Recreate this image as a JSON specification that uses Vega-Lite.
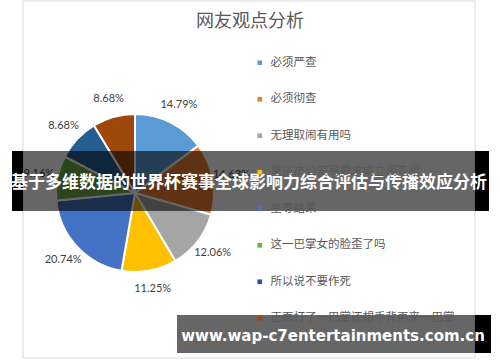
{
  "$schema": "https://vega.github.io/schema/vega-lite/v6.json",
  "width": 500,
  "height": 362,
  "autosize": {"type": "fit", "contains": "padding"},
  "padding": 0,
  "background": "white",
  "config": {"view": {"stroke": null}},
  "datasets": {
    "pie": [
      {"idx": 1, "cat": "必须严查", "share": 0.1479},
      {"idx": 2, "cat": "必须彻查", "share": 0.1463},
      {"idx": 3, "cat": "无理取闹有用吗", "share": 0.1206},
      {"idx": 4, "cat": "重庆市公安局要求成立调查组", "share": 0.1125},
      {"idx": 5, "cat": "坐等结果", "share": 0.2074},
      {"idx": 6, "cat": "这一巴掌女的脸歪了吗", "share": 0.0916},
      {"idx": 7, "cat": "所以说不要作死", "share": 0.0868},
      {"idx": 8, "cat": "正面打了一巴掌还想手背再来一巴掌", "share": 0.0868}
    ],
    "one": [{"t": "网友观点分析", "banner": "基于多维数据的世界杯赛事全球影响力综合评估与传播效应分析", "wm": "www.wap-c7entertainments.com.cn"}]
  },
  "layer": [
    {
      "data": {"name": "one"},
      "mark": {"type": "rect", "fill": "white", "stroke": "#D9D9D9", "strokeWidth": 1},
      "encoding": {"x": {"value": 23}, "x2": {"value": 475}, "y": {"value": 1}, "y2": {"value": 358}}
    },
    {
      "data": {"name": "one"},
      "mark": {"type": "text", "font": "Noto Sans CJK SC", "fontSize": 18, "color": "#595959", "align": "center", "baseline": "middle"},
      "encoding": {"x": {"value": 250}, "y": {"value": 22}, "text": {"field": "t"}}
    },
    {
      "data": {"name": "pie"},
      "mark": {"type": "arc", "outerRadius": 79, "stroke": "white", "strokeWidth": 2},
      "encoding": {
        "x": {"value": 135},
        "y": {"value": 193},
        "theta": {"field": "share", "type": "quantitative", "stack": true},
        "order": {"field": "idx", "type": "quantitative"},
        "color": {
          "field": "cat",
          "type": "nominal",
          "sort": ["必须严查", "必须彻查", "无理取闹有用吗", "重庆市公安局要求成立调查组", "坐等结果", "这一巴掌女的脸歪了吗", "所以说不要作死", "正面打了一巴掌还想手背再来一巴掌"],
          "scale": {
            "domain": ["必须严查", "必须彻查", "无理取闹有用吗", "重庆市公安局要求成立调查组", "坐等结果", "这一巴掌女的脸歪了吗", "所以说不要作死", "正面打了一巴掌还想手背再来一巴掌"],
            "range": ["#5B9BD5", "#ED7D31", "#A5A5A5", "#FFC000", "#4472C4", "#70AD47", "#255E91", "#9E480E"]
          },
          "legend": {
            "title": null,
            "orient": "none",
            "legendX": 254,
            "legendY": 57,
            "padding": 0,
            "symbolType": "square",
            "symbolSize": 22,
            "symbolStrokeWidth": 0,
            "labelFont": "Noto Sans CJK SC",
            "labelFontSize": 11.5,
            "labelColor": "#595959",
            "labelOffset": 5,
            "rowPadding": 23.5,
            "labelLimit": 300
          }
        }
      }
    },
    {
      "data": {"name": "pie"},
      "mark": {"type": "text", "radius": 98, "font": "Lato", "fontSize": 11, "color": "#404040", "align": "center", "baseline": "middle"},
      "encoding": {
        "x": {"value": 135},
        "y": {"value": 193},
        "theta": {"field": "share", "type": "quantitative", "stack": true},
        "order": {"field": "idx", "type": "quantitative"},
        "text": {"field": "share", "type": "quantitative", "format": ".2%"}
      }
    },
    {
      "data": {"name": "one"},
      "mark": {"type": "rect", "fill": "black", "opacity": 0.6},
      "encoding": {"x": {"value": 23}, "x2": {"value": 475}, "y": {"value": 151}, "y2": {"value": 211}}
    },
    {
      "data": {"name": "one"},
      "mark": {"type": "rect", "fill": "black"},
      "encoding": {"x": {"value": 12}, "x2": {"value": 23}, "y": {"value": 151}, "y2": {"value": 211}}
    },
    {
      "data": {"name": "one"},
      "mark": {"type": "rect", "fill": "black"},
      "encoding": {"x": {"value": 475}, "x2": {"value": 489}, "y": {"value": 151}, "y2": {"value": 211}}
    },
    {
      "data": {"name": "one"},
      "mark": {"type": "text", "font": "Noto Sans CJK SC", "fontWeight": "bold", "fontSize": 17, "color": "white", "align": "center", "baseline": "middle"},
      "encoding": {"x": {"value": 249}, "y": {"value": 183}, "text": {"field": "banner"}}
    },
    {
      "data": {"name": "one"},
      "mark": {"type": "rect", "fill": "black", "opacity": 0.6},
      "encoding": {"x": {"value": 177}, "x2": {"value": 475}, "y": {"value": 315}, "y2": {"value": 353}}
    },
    {
      "data": {"name": "one"},
      "mark": {"type": "rect", "fill": "black"},
      "encoding": {"x": {"value": 475}, "x2": {"value": 491}, "y": {"value": 315}, "y2": {"value": 353}}
    },
    {
      "data": {"name": "one"},
      "mark": {"type": "text", "font": "DejaVu Sans", "fontWeight": "bold", "fontSize": 15, "color": "white", "align": "center", "baseline": "middle"},
      "encoding": {"x": {"value": 333}, "y": {"value": 336}, "text": {"field": "wm"}}
    }
  ]
}
